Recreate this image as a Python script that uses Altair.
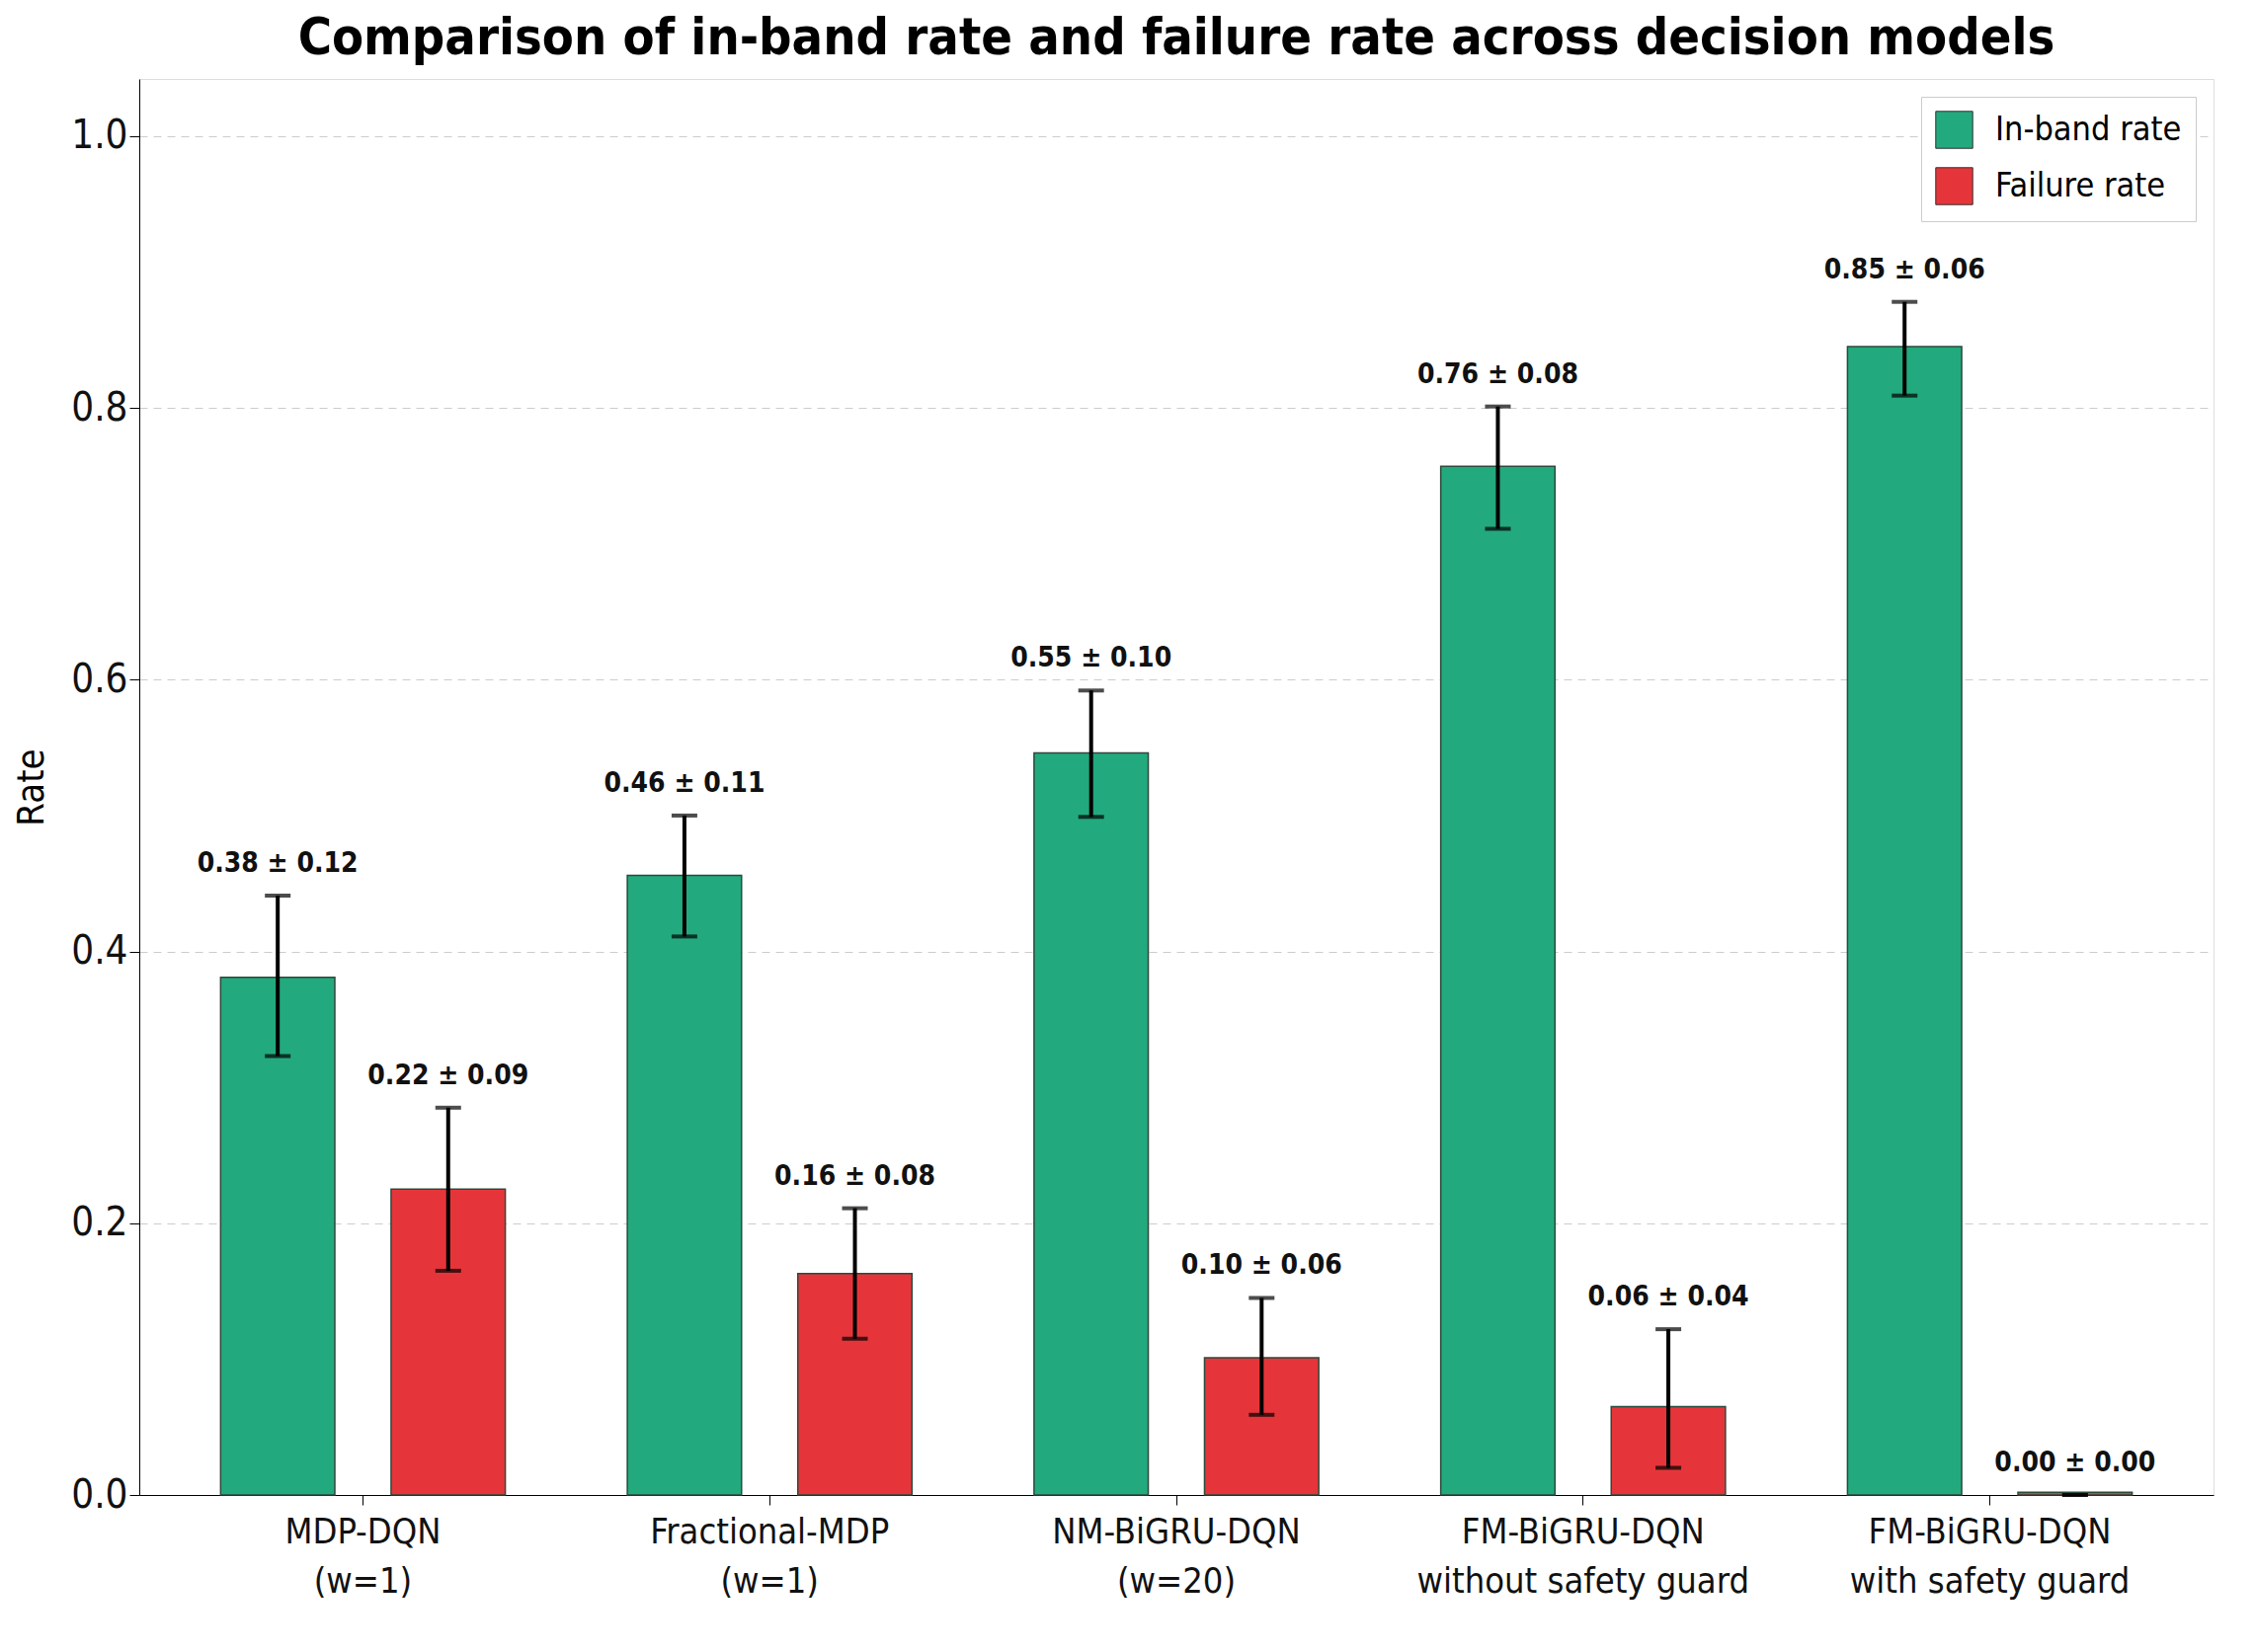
import altair as alt
import pandas as pd

models = ["MDP-DQN|(w=1)", "Fractional-MDP|(w=1)", "NM-BiGRU-DQN|(w=20)",
          "FM-BiGRU-DQN|without safety guard", "FM-BiGRU-DQN|with safety guard"]
inband = [0.381, 0.456, 0.546, 0.757, 0.845]
inband_lo = [0.323, 0.411, 0.499, 0.711, 0.809]
inband_hi = [0.441, 0.500, 0.592, 0.801, 0.878]
inband_txt = ["0.38 ± 0.12", "0.46 ± 0.11", "0.55 ± 0.10", "0.76 ± 0.08", "0.85 ± 0.06"]
fail = [0.225, 0.163, 0.101, 0.065, 0.002]
fail_lo = [0.165, 0.115, 0.059, 0.020, 0.0]
fail_hi = [0.285, 0.211, 0.145, 0.122, 0.0]
fail_txt = ["0.22 ± 0.09", "0.16 ± 0.08", "0.10 ± 0.06", "0.06 ± 0.04", "0.00 ± 0.00"]

rows = []
for i, m in enumerate(models):
    rows.append(dict(model=m, metric="In-band rate", v=inband[i], lo=inband_lo[i], hi=inband_hi[i], t=inband_txt[i]))
    rows.append(dict(model=m, metric="Failure rate", v=fail[i], lo=fail_lo[i], hi=fail_hi[i], t=fail_txt[i]))
df = pd.DataFrame(rows)

FONT = "DejaVu Sans Condensed"
x = alt.X("model:N", sort=models, title=None,
          scale=alt.Scale(paddingInner=0.3, paddingOuter=0.2),
          axis=alt.Axis(labelExpr="split(datum.label, '|')", labelAngle=0, labelFontSize=36,
                        labelFont=FONT, labelColor="#111", tickSize=10, tickColor="#000",
                        domainColor="#000", labelPadding=10, labelLineHeight=50, labelLimit=0))
xo = alt.XOffset("metric:N", sort=["In-band rate", "Failure rate"],
                 scale=alt.Scale(paddingInner=0.33))
base = alt.Chart(df).encode(x=x, xOffset=xo)

bars = base.mark_bar(stroke="#2b4a3c", strokeWidth=1.5).encode(
    y=alt.Y("v:Q", title="Rate", scale=alt.Scale(domain=[0, 1.042], nice=False),
            axis=alt.Axis(values=[0, 0.2, 0.4, 0.6, 0.8, 1.0], format=".1f", labelFontSize=40,
                          labelFont=FONT, titleFont=FONT, titleFontSize=38, titleFontWeight="normal",
                          gridDash=[8, 6], gridColor="#cccccc", tickSize=10, tickColor="#000",
                          domainColor="#000", labelColor="#111", titlePadding=20)),
    color=alt.Color("metric:N", sort=["In-band rate", "Failure rate"],
                    scale=alt.Scale(domain=["In-band rate", "Failure rate"], range=["#23a97e", "#e6353a"]),
                    legend=alt.Legend(title=None, orient="top-right", symbolType="square",
                                      symbolSize=1400, labelFontSize=34, labelFont=FONT, labelLimit=0,
                                      labelOffset=22, fillColor="white", strokeColor="#ccc", padding=14,
                                      rowPadding=14, symbolStrokeColor="#333", symbolStrokeWidth=1)),
)
rule = base.mark_rule(color="black", strokeWidth=4).encode(y="lo:Q", y2="hi:Q")
cap_lo = base.mark_tick(color="black", thickness=4, size=26).encode(y="lo:Q")
cap_hi = base.mark_tick(color="black", thickness=4, size=26).encode(y="hi:Q")
text = base.mark_text(dy=-32, fontSize=28, fontWeight="bold", font=FONT, color="#111").encode(
    y="hi:Q", text="t:N")

chart = (bars + rule + cap_lo + cap_hi + text).properties(
    width=2100, height=1434,
    title=alt.Title("Comparison of in-band rate and failure rate across decision models",
                    fontSize=52, font=FONT, fontWeight="bold", offset=14),
).configure_view(stroke="#000", strokeWidth=2, strokeOpacity=1).configure(background="white")

chart.save("out.html", embed_options={"renderer": "svg", "actions": False})
